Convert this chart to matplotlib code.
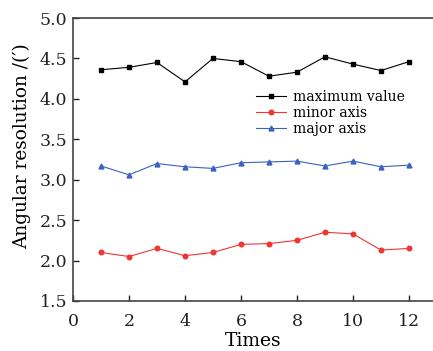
import matplotlib
matplotlib.use("Agg")
import matplotlib.pyplot as plt

plt.rcParams['font.family'] = ['DejaVu Serif']
plt.rcParams['mathtext.fontset'] = 'dejavuserif'

times = list(range(1, 13))
max_value = [4.36, 4.39, 4.45, 4.21, 4.50, 4.46, 4.28, 4.33, 4.52, 4.43, 4.35, 4.46]
minor_axis = [2.10, 2.05, 2.15, 2.06, 2.10, 2.20, 2.21, 2.25, 2.35, 2.33, 2.13, 2.15]
major_axis = [3.17, 3.06, 3.20, 3.16, 3.14, 3.21, 3.22, 3.23, 3.17, 3.23, 3.16, 3.18]

fig = plt.figure(figsize=(4.33, 3.51), dpi=100)
ax = fig.add_axes([0.1686, 0.1425, 0.8314, 0.8062])

ax.plot(times, max_value, color='black', marker='s', markersize=3, linewidth=0.8, label='maximum value')
ax.plot(times, minor_axis, color='#f03535', marker='o', markersize=3.3, linewidth=0.8, label='minor axis')
ax.plot(times, major_axis, color='#3a62bf', marker='^', markersize=3.5, linewidth=0.8, label='major axis')

ax.set_xlim(0, 12.86)
ax.set_ylim(1.5, 5.0)
ax.set_xticks([0, 2, 4, 6, 8, 10, 12])
ax.set_yticks([1.5, 2.0, 2.5, 3.0, 3.5, 4.0, 4.5, 5.0])
ax.set_yticklabels(['1.5', '2.0', '2.5', '3.0', '3.5', '4.0', '4.5', '5.0'])
ax.tick_params(direction='in', length=4, width=1, labelsize=12.5, colors='#222222')
ax.tick_params(axis='x', pad=9)
ax.tick_params(axis='y', pad=4)
for s in ax.spines.values():
    s.set_color('#444444')
    s.set_linewidth(1.2)
ax.spines['right'].set_visible(False)

ax.set_xlabel('Times', fontsize=13.5, labelpad=1)
ax.set_ylabel("Angular resolution /(′)", fontsize=13.3)
ax.yaxis.set_label_coords(-0.117, 0.549)

ax.legend(loc='upper left', bbox_to_anchor=(0.48, 0.78), frameon=False, fontsize=10,
          handlelength=2.2, handletextpad=0.5, labelspacing=0.15, borderpad=0.2)

fig.savefig('out.png', dpi=100)
